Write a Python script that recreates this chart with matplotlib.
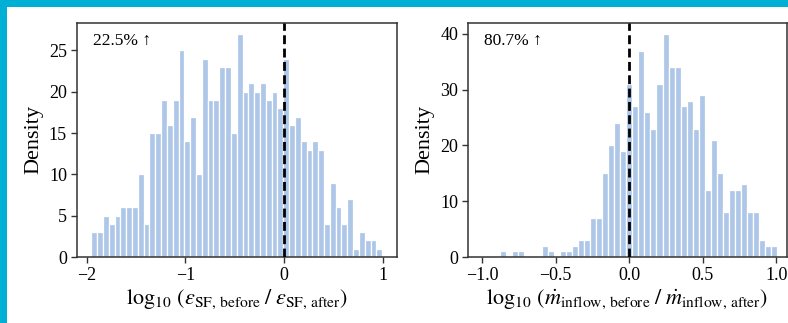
import numpy as np
import matplotlib
matplotlib.use("Agg")
import matplotlib.pyplot as plt
from matplotlib.patches import Rectangle

plt.rcParams['font.family'] = ['Liberation Serif', 'DejaVu Serif']
plt.rcParams['mathtext.fontset'] = 'stix'

# ---- data (bar heights) ----
left_counts = [3, 3, 5, 4, 5, 6, 6, 6, 10, 4, 15, 15, 19, 16, 19, 25, 14, 17, 10, 24,
               19, 19, 23, 23, 15, 27, 20, 21, 20, 21, 19, 20, 18, 24, 16, 17, 14, 13, 14, 13,
               4, 9, 6, 4, 7, 1, 3, 2, 2, 1]
left_range = (-1.955, 0.995)

right_counts = [0, 0, 0, 1, 0, 1, 1, 0, 0, 0, 2, 1, 0, 1, 1, 2, 3, 3, 7, 7,
                15, 20, 24, 19, 31, 27, 37, 26, 23, 31, 40, 34, 34, 27, 28, 23, 29, 12, 21, 15,
                8, 12, 12, 13, 8, 8, 3, 2, 2, 0]
right_range = (-1.0035, 1.0465)

left_note = "22.5% \u2191"
right_note = "80.7% \u2191"
left_xlabel = r'$\log_{10}\,(\varepsilon_{\mathrm{SF,\,before}}\;/\;\varepsilon_{\mathrm{SF,\,after}})$'
right_xlabel = r'$\log_{10}\,(\dot{m}_{\mathrm{inflow,\,before}}\;/\;\dot{m}_{\mathrm{inflow,\,after}})$'
left_xticks = [-2, -1, 0, 1]
left_xticklabels = ['\u22122', '\u22121', '0', '1']
left_yticks = [0, 5, 10, 15, 20, 25]
right_xticks = [-1.0, -0.5, 0.0, 0.5, 1.0]
right_xticklabels = ['\u22121.0', '\u22120.5', '0.0', '0.5', '1.0']
right_yticks = [0, 10, 20, 30, 40]

W, H = 788, 323
fig = plt.figure(figsize=(W / 100, H / 100), dpi=100)
fig.patch.set_facecolor('#00AFD4')
fig.patches.append(Rectangle((7 / W, 0), 1 - 7 / W, (H - 7) / H,
                             transform=fig.transFigure, facecolor='white',
                             edgecolor='none', zorder=-5))

bar_color = '#aec7e8'


def panel(rect, counts, rng, note, xlabel, xticks, xticklabels, yticks, xlim=None):
    ax = fig.add_axes(rect)
    ax.set_zorder(1)
    ax.set_facecolor('white')
    edges = np.linspace(rng[0], rng[1], len(counts) + 1)
    ax.bar(edges[:-1], counts, width=np.diff(edges), align='edge',
           color=bar_color, edgecolor='white', linewidth=0.9, zorder=2)
    span = edges[-1] - edges[0]
    if xlim is None:
        xlim = (edges[0] - 0.05 * span, edges[-1] + 0.05 * span)
    ax.set_xlim(*xlim)
    ax.set_ylim(0, max(counts) * 1.05)
    ax.axvline(0, color='black', linestyle=(0, (3.2, 1.6)), linewidth=2.0, zorder=3)
    ax.set_xticks(xticks)
    ax.set_xticklabels(xticklabels)
    ax.set_yticks(yticks)
    ax.tick_params(axis='both', labelsize=13, length=4, width=1.0,
                   color='#333333', pad=3)
    for s in ax.spines.values():
        s.set_color('#333333')
        s.set_linewidth(1.1)
    ax.set_ylabel('Density', fontsize=16, labelpad=4)
    ax.set_xlabel(xlabel, fontsize=16, labelpad=3)
    ax.text(0.05, 0.955, note, transform=ax.transAxes, fontsize=12.5,
            ha='left', va='top', zorder=4)
    return ax


panel([76.7 / W, 66 / H, 320 / W, 234.3 / H], left_counts, left_range, left_note,
      left_xlabel, left_xticks, left_xticklabels, left_yticks)
panel([468 / W, 66 / H, 318.7 / W, 234.3 / H], right_counts, right_range, right_note,
      right_xlabel, right_xticks, right_xticklabels, right_yticks, xlim=(-1.095, 1.07))

fig.savefig('out.png', dpi=100, facecolor=fig.get_facecolor())
